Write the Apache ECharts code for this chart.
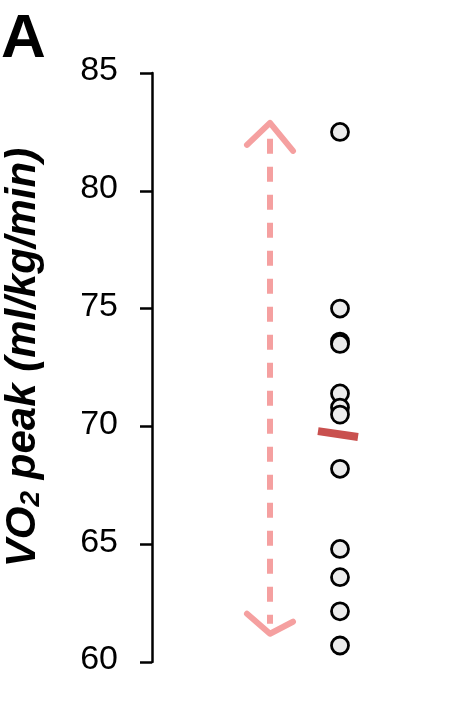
<!DOCTYPE html>
<html>
<head>
<meta charset="utf-8">
<script src="https://cdn.jsdelivr.net/npm/echarts@6/dist/echarts.min.js"></script>
<style>
html,body{margin:0;padding:0;background:#fff;}
#chart{width:452px;height:723px;}
</style>
</head>
<body>
<div id="chart"></div>
<script>
// ---- data ----
var yTicks = [60, 65, 70, 75, 80, 85];
var vo2Values = [82.5, 75.0, 73.6, 73.5, 71.4, 70.8, 70.5, 68.2, 64.8, 63.6, 62.15, 60.7];
var meanValues = [69.8, 69.55];       // mean bar (left end, right end)
var rangeValues = [82.8, 61.2];       // arrow top, arrow bottom

// ---- layout constants ----
var POINT_X = 188, ARROW_X = 118, MEAN_X0 = 166, MEAN_X1 = 206;
var FONT = '"Liberation Sans", Arial, Helvetica, sans-serif';

var chart = echarts.init(document.getElementById('chart'), null, {renderer: 'canvas'});

var option = {
  animation: false,
  backgroundColor: '#fff',
  title: {
    text: 'A', left: -4, top: 4,
    textStyle: {fontFamily: FONT, fontSize: 62, fontWeight: 'bold', color: '#000'}
  },
  grid: {left: 152, right: 0, top: 73, bottom: 61, outerBoundsMode: 'none', containLabel: false},
  xAxis: {type: 'value', min: 0, max: 300, show: false},
  yAxis: {
    type: 'value', min: yTicks[0], max: yTicks[yTicks.length - 1], interval: 5,
    name: '{b|VO}{s|2}{a| peak (ml/kg/min)}',
    nameLocation: 'middle', nameRotate: 90, nameGap: 107,
    nameTextStyle: {
      rich: {
        b: {fontFamily: FONT, fontSize: 42, fontWeight: 'bold', fontStyle: 'italic', color: '#000', padding: [0, 0, 0, 20]},
        a: {fontFamily: FONT, fontSize: 42, fontWeight: 'bold', fontStyle: 'italic', color: '#000'},
        s: {fontFamily: FONT, fontSize: 28, fontWeight: 'bold', fontStyle: 'italic', color: '#000', verticalAlign: 'bottom', padding: [16, 0, 0, 0]}
      }
    },
    axisLine: {show: true, lineStyle: {color: '#000', width: 2.5}},
    axisTick: {show: true, length: 12, lineStyle: {color: '#000', width: 2.5}},
    splitLine: {show: false},
    axisLabel: {
      margin: 34,
      formatter: function (v) { return '{v|' + v + '}'; },
      rich: {
        v: {fontFamily: FONT, fontSize: 34, color: '#000', padding: [0, 0, 4, 0]}
      }
    }
  },
  series: [
    {
      type: 'custom',
      z: 2,
      data: [rangeValues],
      renderItem: function (params, api) {
        var top = api.coord([ARROW_X, api.value(0)]);
        var bot = api.coord([ARROW_X, api.value(1)]);
        var col = '#f5a0a0';
        return {
          type: 'group',
          children: [
            {type: 'line', shape: {x1: top[0], y1: top[1] + 14, x2: bot[0], y2: bot[1] - 10},
             style: {stroke: col, lineWidth: 6, lineDash: [15, 13]}},
            {type: 'polyline', shape: {points: [[top[0] - 23, top[1] + 20], [top[0], top[1] - 2], [top[0] + 23, top[1] + 26]]},
             style: {stroke: col, lineWidth: 6, fill: null, lineCap: 'round', lineJoin: 'round'}},
            {type: 'polyline', shape: {points: [[bot[0] - 23, bot[1] - 20], [bot[0], bot[1]], [bot[0] + 23, bot[1] - 12]]},
             style: {stroke: col, lineWidth: 6, fill: null, lineCap: 'round', lineJoin: 'round'}}
          ]
        };
      }
    },
    {
      type: 'scatter',
      z: 3,
      symbol: 'circle',
      symbolSize: 17,
      itemStyle: {color: '#ececec', borderColor: '#000', borderWidth: 2.8, opacity: 1},
      data: vo2Values.map(function (v) { return [POINT_X, v]; })
    },
    {
      type: 'line',
      z: 4,
      symbol: 'none',
      lineStyle: {color: '#c9504e', width: 8, cap: 'butt'},
      data: [[MEAN_X0, meanValues[0]], [MEAN_X1, meanValues[1]]]
    }
  ]
};
chart.setOption(option);
</script>
</body>
</html>
